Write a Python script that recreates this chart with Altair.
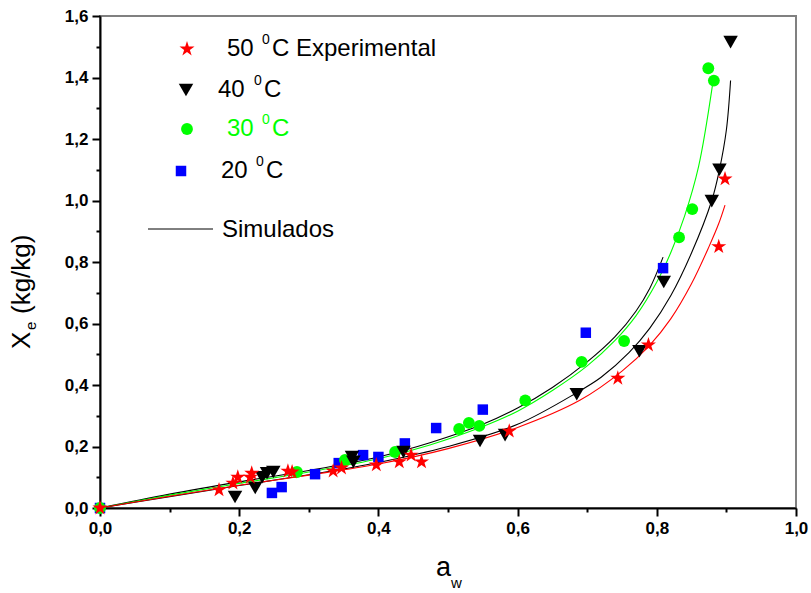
import altair as alt
import pandas as pd

# ---------------- data ----------------
# 50 oC experimental (red stars)
r50_aw = [0.0, 0.171, 0.191, 0.198, 0.216, 0.218, 0.27, 0.276, 0.335, 0.347, 0.397, 0.43, 0.447, 0.462, 0.588, 0.744, 0.788, 0.889, 0.898]
r50_x = [0.0, 0.059, 0.081, 0.10, 0.10, 0.113, 0.12, 0.117, 0.12, 0.13, 0.14, 0.15, 0.172, 0.15, 0.25, 0.422, 0.53, 0.85, 1.07]
# 40 oC (black triangles)
t40_aw = [0.194, 0.223, 0.233, 0.24, 0.249, 0.362, 0.364, 0.436, 0.546, 0.582, 0.685, 0.775, 0.81, 0.879, 0.89, 0.906]
t40_x = [0.036, 0.065, 0.10, 0.113, 0.117, 0.166, 0.15, 0.182, 0.218, 0.237, 0.37, 0.51, 0.735, 0.998, 1.10, 1.515]
# 30 oC (green circles)
g30_aw = [0.0, 0.283, 0.352, 0.424, 0.516, 0.53, 0.545, 0.611, 0.692, 0.753, 0.832, 0.851, 0.874, 0.882]
g30_x = [0.0, 0.117, 0.156, 0.182, 0.257, 0.277, 0.267, 0.35, 0.475, 0.543, 0.88, 0.972, 1.43, 1.39]
# 20 oC (blue squares)
b20_aw = [0.0, 0.247, 0.261, 0.309, 0.343, 0.378, 0.40, 0.438, 0.483, 0.55, 0.698, 0.809]
b20_x = [0.0, 0.049, 0.068, 0.11, 0.146, 0.172, 0.166, 0.21, 0.26, 0.32, 0.57, 0.78]

# simulated curves
s50_aw = [0.0, 0.1, 0.2, 0.3, 0.4, 0.5, 0.6, 0.69, 0.75, 0.79, 0.82, 0.85, 0.875, 0.889, 0.898]
s50_x = [0.0, 0.038, 0.074, 0.107, 0.143, 0.193, 0.262, 0.351, 0.445, 0.53, 0.615, 0.73, 0.85, 0.925, 0.985]
s40_aw = [0.0, 0.1, 0.2, 0.3, 0.4, 0.5, 0.6, 0.685, 0.72, 0.76, 0.79, 0.82, 0.85, 0.879, 0.89, 0.9, 0.906]
s40_x = [0.0, 0.037, 0.073, 0.108, 0.148, 0.2, 0.272, 0.375, 0.425, 0.505, 0.585, 0.69, 0.83, 1.0, 1.1, 1.23, 1.39]
s30_aw = [0.0, 0.1, 0.2, 0.3, 0.4, 0.474, 0.55, 0.6, 0.65, 0.7, 0.74, 0.77, 0.8, 0.82, 0.84, 0.86, 0.88]
s30_x = [0.0, 0.042, 0.08, 0.117, 0.16, 0.205, 0.265, 0.315, 0.382, 0.462, 0.545, 0.625, 0.735, 0.83, 0.95, 1.11, 1.375]
s20_aw = [0.0, 0.1, 0.2, 0.3, 0.4, 0.474, 0.55, 0.6, 0.65, 0.7, 0.74, 0.77, 0.79, 0.809]
s20_x = [0.0, 0.045, 0.085, 0.122, 0.166, 0.212, 0.272, 0.325, 0.392, 0.475, 0.557, 0.64, 0.715, 0.816]

x_ticks = [i / 10 for i in range(11)]
y_ticks = [i / 10 for i in range(17)]

FONT = "Liberation Sans"
STAR = ("M0,-1L0.2245,-0.309L0.951,-0.309L0.3633,0.118L0.5878,0.809L0,0.382"
        "L-0.5878,0.809L-0.3633,0.118L-0.951,-0.309L-0.2245,-0.309Z")

W, H = 696, 492

major = "round(datum.value*10) % 2 == 0"
lab = major + " ? replace(format(datum.value, '.1f'), '.', ',') : ''"
tick_size = {"condition": {"test": major, "value": 8}, "value": 4}

common_axis = dict(
    title=None, grid=False, labelExpr=lab, labelOverlap=False, labelFlush=False,
    domainColor="black", domainWidth=2, tickColor="black", tickWidth=2,
    tickSize=tick_size, labelFont=FONT, labelFontWeight="bold", labelFontSize=17,
    labelColor="black", labelPadding=4,
)
x_axis = alt.Axis(values=x_ticks, **common_axis)
y_axis = alt.Axis(values=y_ticks, **common_axis)
xs = alt.Scale(domain=[0, 1.0], nice=False, zero=False)
ys = alt.Scale(domain=[0, 1.6], nice=False, zero=False)


def enc(ch):
    return ch.encode(
        x=alt.X("aw:Q", scale=xs, axis=x_axis),
        y=alt.Y("x:Q", scale=ys, axis=y_axis),
    )


def curve(aw, xv, color):
    df = pd.DataFrame({"aw": aw, "x": xv})
    return enc(alt.Chart(df).mark_line(color=color, strokeWidth=1.1, interpolate="catmull-rom"))


def points(aw, xv, shape, color, size):
    df = pd.DataFrame({"aw": aw, "x": xv})
    return enc(alt.Chart(df).mark_point(shape=shape, filled=True, color=color,
                                        size=size, opacity=1, strokeWidth=0))


one = pd.DataFrame({"k": [0]})


def txt(t, x, y, size=24, color="black", angle=0, baseline="middle", align="left"):
    kw = dict(text=t, font=FONT, fontSize=size, color=color, align=align, baseline=baseline)
    if angle:
        kw["angle"] = angle
    return alt.Chart(one).mark_text(**kw).encode(x=alt.value(x), y=alt.value(y))


def sym(shape, color, size, x, y):
    return alt.Chart(one).mark_point(shape=shape, filled=True, color=color, size=size,
                                     opacity=1, strokeWidth=0).encode(x=alt.value(x), y=alt.value(y))


GREEN = "#00ff00"
STAR_SIZE = 250
layers = [
    curve(s20_aw, s20_x, "black"),
    curve(s30_aw, s30_x, GREEN),
    curve(s40_aw, s40_x, "black"),
    curve(s50_aw, s50_x, "red"),
    points(b20_aw, b20_x, "square", "blue", 110),
    points(g30_aw, g30_x, "circle", GREEN, 140),
    points(t40_aw, t40_x, "triangle-down", "black", 210),
    points(r50_aw, r50_x, STAR, "red", STAR_SIZE),
    # legend
    sym(STAR, "red", STAR_SIZE, 87, 33),
    txt("50", 127, 33), txt("0", 162, 24, size=14), txt("C Experimental", 172, 33),
    sym("triangle-down", "black", 210, 86, 74),
    txt("40", 118, 74), txt("0", 154, 65, size=14), txt("C", 164, 74),
    sym("circle", GREEN, 140, 87, 113),
    txt("30", 127, 113, color=GREEN), txt("0", 162, 104, size=14, color=GREEN),
    txt("C", 172, 113, color=GREEN),
    sym("square", "blue", 110, 81, 155),
    txt("20", 121, 155), txt("0", 156, 146, size=14), txt("C", 166, 155),
    alt.Chart(one).mark_rule(color="black", strokeWidth=1).encode(
        x=alt.value(48), x2=alt.value(113), y=alt.value(213)),
    txt("Simulados", 122, 214),
    # axis titles
    txt("X", -78, 333, size=26, angle=270),
    txt("e", -69, 314, size=15, angle=270),
    txt("(kg/kg)", -78, 298, size=26, angle=270),
    txt("a", 336, 560, size=27, baseline="alphabetic"),
    txt("w", 351, 572, size=15, baseline="alphabetic"),
]

chart = alt.layer(*layers).properties(
    width=W, height=H,
    autosize=alt.AutoSizeParams(type="none"),
    padding={"left": 100, "top": 16, "right": 15, "bottom": 85},
    background="white",
).configure_view(stroke="#808080", strokeWidth=2)

chart.save("out.html", embed_options={"renderer": "svg", "actions": False})
